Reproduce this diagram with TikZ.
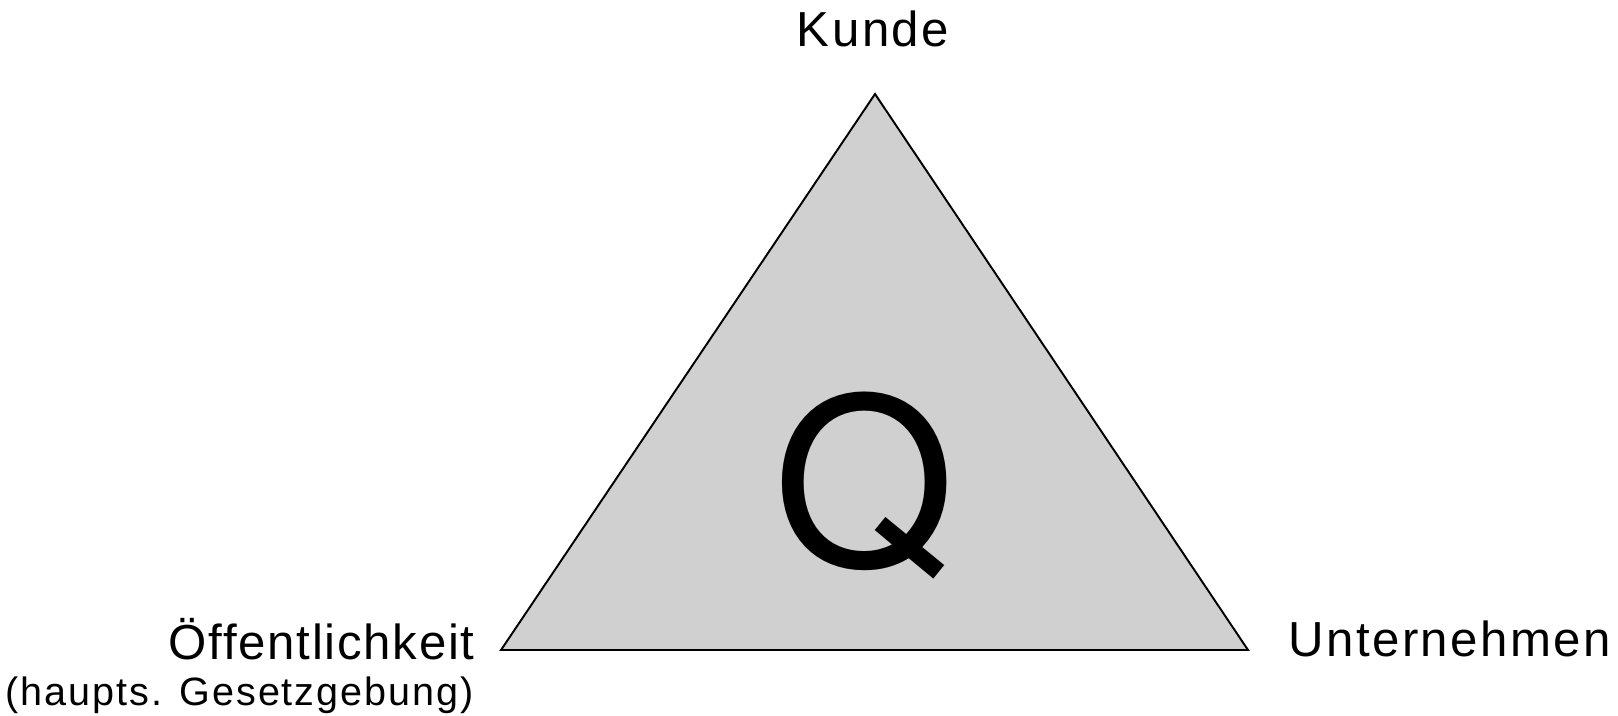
\documentclass[tikz,border=0pt]{standalone}
\usepackage{fontspec}
\setmainfont{Liberation Sans}[LetterSpace=5]
\newfontfamily\qfont{TeX Gyre Heros}
\usepackage{tikz}
\usetikzlibrary{positioning}
\definecolor{qgray}{RGB}{208,208,208}

\begin{document}
\begin{tikzpicture}[
        x=0.02cm, y=-0.02cm,
        every node/.style={font=\fontsize{28}{33}\selectfont, inner sep=0pt},
        corner/.style={anchor=base},
        sub/.style={font=\fontsize{22.5}{27}\selectfont},
        side/.style={draw=black, line width=1.1pt, fill=qgray, line join=miter}
    ]
        \useasboundingbox (0,0) rectangle (1618,716);
        \coordinate (top) at (875,94);
        \coordinate (left) at (501,650);
        \coordinate (right) at (1248,650);
        \draw[side] (top) -- (right) -- (left) -- cycle;

        \node[corner] (kunde) at (873,47) {Kunde};
        \node[corner, anchor=base east] (oeff) at (475,659) {\addfontfeature{LetterSpace=3.5}Öffentlichkeit};
        \node[corner, anchor=base east, sub] (gesetz) at (474,705) {(haupts. Gesetzgebung)};
        \node[corner, anchor=base west] (untern) at (1288,656) {Unternehmen};
        \node[anchor=base] (q) at (864,566) {\qfont\fontsize{133}{138}\selectfont Q};
    \end{tikzpicture}
\end{document}
